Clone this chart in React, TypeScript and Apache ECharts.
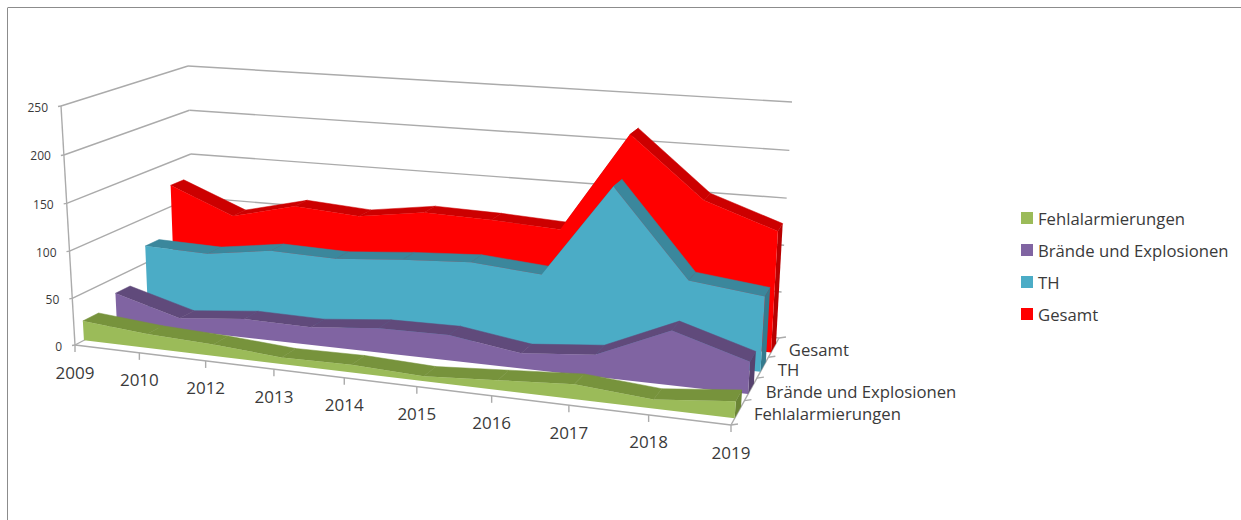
import React, { useEffect, useRef } from "react";
import * as echarts from "echarts";

const categories = ["2009", "2010", "2012", "2013", "2014", "2015", "2016", "2017", "2018", "2019"];
const seriesNames = ["Fehlalarmierungen", "Brände und Explosionen", "TH", "Gesamt"];
const fehlalarmierungen = [21, 15, 12, 7, 8, 5, 10, 15, 9, 17];
const braende = [33, 13, 20, 19, 26, 27, 16, 23, 56, 33];
const th = [69, 67, 77, 75, 81, 85, 79, 177, 87, 78];
const gesamt = [124, 95, 112, 107, 117, 115, 111, 217, 154, 128];
const valueTicks = [0, 50, 100, 150, 200, 250];

const seriesValues = [fehlalarmierungen, braende, th, gesamt];
const FRONT_COLORS = ["#9BBB59", "#8064A2", "#4BACC6", "#FF0000"];
const TOP_COLORS = ["#77933C", "#604A7B", "#3B879C", "#CC0000"];
const END_COLORS = ["#6B8535", "#56426E", "#357A8D", "#B80000"];

// layout of the 3D box (screen corners), not data
type P = [number, number];
const FLOOR = { O: [75, 345] as P, X: [731, 425] as P, Z: [195, 282] as P, C: [779, 338] as P };
const ROOF = { O: [61, 106] as P, X: [747, 164] as P, Z: [188, 66] as P, C: [792, 102] as P };
const DEPTH_FRONT = [0.066, 0.32, 0.575, 0.81];
const DEPTH_BAND = 0.118;
const U_PERSPECTIVE = 0.87;
const U_PERSPECTIVE_DEPTH = 0.05;
const U_PLANE = 0.813;
const V_PERSPECTIVE = 0.97;
const GRID = "#ABABAB";
const FONT = "'Open Sans', sans-serif";
const TEXT = "#3A3A3A";

function plane(q: { O: P; X: P; Z: P; C: P }) {
  const { O, X, Z, C } = q;
  const a = C[0] - X[0], b = C[0] - Z[0], c = C[0] - O[0];
  const d = C[1] - X[1], e = C[1] - Z[1], f = C[1] - O[1];
  const det = a * e - b * d;
  const wx = (c * e - b * f) / det;
  const wz = (a * f - c * d) / det;
  return (u: number, t: number): P => {
    const w = 1 + u * (wx - 1) + t * (wz - 1);
    return [
      (O[0] + u * (wx * X[0] - O[0]) + t * (wz * Z[0] - O[0])) / w,
      (O[1] + u * (wx * X[1] - O[1]) + t * (wz * Z[1] - O[1])) / w,
    ];
  };
}
const floorAt = plane(FLOOR);
const roofAt = plane(ROOF);
function project(u0: number, v0: number, t: number): P {
  const p = U_PERSPECTIVE + U_PERSPECTIVE_DEPTH * t;
  const s = (u0 * p) / (1 + u0 * (p - 1));
  const u = s / (U_PLANE - s * (U_PLANE - 1));
  const v = (v0 * V_PERSPECTIVE) / (1 + v0 * (V_PERSPECTIVE - 1));
  const a = floorAt(u, t), b = roofAt(u, t);
  return [a[0] + (b[0] - a[0]) * v, a[1] + (b[1] - a[1]) * v];
}

// library scales -> unit box coordinates -> screen
function locate(params: any, api: any, cat: number, value: number, t: number): P {
  const cs = params.coordSys;
  const c = api.coord([cat, value]);
  return project((c[0] - cs.x) / cs.width, 1 - (c[1] - cs.y) / cs.height, t);
}
const seg = (a: P, b: P, w = 1.4, color = GRID) => ({
  type: "line",
  shape: { x1: a[0], y1: a[1], x2: b[0], y2: b[1] },
  style: { stroke: color, lineWidth: w },
  silent: true,
});
const label = (text: string, x: number, y: number, size: number, align: string) => ({
  type: "text",
  style: { text, x, y, fontSize: size, fontFamily: FONT, fill: TEXT, align, verticalAlign: "middle" },
  silent: true,
});

function areaSeries(k: number) {
  const values = seriesValues[k];
  const tf = DEPTH_FRONT[k], tb = tf + DEPTH_BAND;
  return {
    type: "custom",
    name: seriesNames[k],
    coordinateSystem: "cartesian2d",
    itemStyle: { color: FRONT_COLORS[k] },
    encode: { x: 0, y: 1 },
    data: values.map((v, i) => [i, v]),
    silent: true,
    renderItem: (params: any, api: any) => {
      if (params.dataIndex !== 0) return null;
      const n = values.length;
      const children: any[] = [];
      for (let i = 0; i < n - 1; i++) {
        children.push({
          type: "polygon",
          shape: {
            points: [
              locate(params, api, i, values[i], tf),
              locate(params, api, i + 1, values[i + 1], tf),
              locate(params, api, i + 1, values[i + 1], tb),
              locate(params, api, i, values[i], tb),
            ],
          },
          style: { fill: TOP_COLORS[k], stroke: TOP_COLORS[k], lineWidth: 0.5 },
        });
      }
      children.push({
        type: "polygon",
        shape: {
          points: [
            locate(params, api, n - 1, 0, tf),
            locate(params, api, n - 1, values[n - 1], tf),
            locate(params, api, n - 1, values[n - 1], tb),
            locate(params, api, n - 1, 0, tb),
          ],
        },
        style: { fill: END_COLORS[k] },
      });
      const face: P[] = values.map((v, i) => locate(params, api, i, v, tf));
      face.push(locate(params, api, n - 1, 0, tf), locate(params, api, 0, 0, tf));
      children.push({ type: "polygon", shape: { points: face }, style: { fill: FRONT_COLORS[k] } });
      return { type: "group", children };
    },
  };
}

const wallSeries = {
  type: "custom",
  name: "walls",
  coordinateSystem: "cartesian2d",
  silent: true,
  data: valueTicks.map((v) => [0, v]),
  renderItem: (params: any, api: any) => {
    const v = valueTicks[params.dataIndex];
    const a = locate(params, api, 0, v, 0);
    const b = locate(params, api, 0, v, 1);
    const c = locate(params, api, categories.length - 1, v, 1);
    const children: any[] = [
      seg(a, b),
      seg(b, c),
      seg([a[0] - 3, a[1] + 0.5], a),
      label(String(v), a[0] - 13, a[1] + 1, 12, "right"),
    ];
    if (params.dataIndex === 0) {
      const top = locate(params, api, 0, 250, 0);
      children.push(seg(a, top));
    }
    return { type: "group", children };
  },
};

const floorSeries = {
  type: "custom",
  name: "floor",
  coordinateSystem: "cartesian2d",
  silent: true,
  data: categories.map((_, i) => [i, 0]),
  renderItem: (params: any, api: any) => {
    const i = params.dataIndex;
    const p = locate(params, api, i, 0, 0);
    const children: any[] = [
      seg(p, [p[0], p[1] + 7]),
      label(categories[i], p[0], p[1] + 27, 17, "center"),
    ];
    if (i === categories.length - 1) {
      const first = locate(params, api, 0, 0, 0);
      children.push(seg(first, p));
      const end = locate(params, api, i, 0, 1);
      children.push(seg(p, end));
      for (let k = 0; k <= 4; k++) {
        const q = locate(params, api, i, 0, k / 4);
        children.push(seg(q, [q[0] + 7, q[1] - 1]));
      }
      const offsets = [0.125, 0.375, 0.625, 0.875];
      offsets.forEach((t, k) => {
        const q = locate(params, api, i, 0, t);
        children.push(label(seriesNames[k], q[0] + (k === 0 ? 16 : 15), q[1] + (k === 0 ? 1 : 2), 16.7, "left"));
      });
    }
    return { type: "group", children };
  },
};

export default function App() {
  const ref = useRef<HTMLDivElement>(null);
  useEffect(() => {
    const chart = echarts.init(ref.current!, undefined, { renderer: "svg" });
    chart.setOption({
      animation: false,
      backgroundColor: "#fff",
      grid: { left: 0, right: 0, top: 0, bottom: 0 },
      xAxis: { type: "category", data: categories, boundaryGap: false, show: false },
      yAxis: { type: "value", min: 0, max: 250, interval: 50, show: false },
      legend: {
        orient: "vertical",
        left: 1021,
        top: 207,
        padding: 0,
        itemWidth: 12,
        itemHeight: 12,
        itemGap: 10,
        icon: "rect",
        data: seriesNames,
        selectedMode: false,
        textStyle: { fontFamily: FONT, fontSize: 16.7, color: TEXT, lineHeight: 22, padding: [0, 0, 0, 0] },
      },
      graphic: [
        { type: "line", shape: { x1: 7.5, y1: 8, x2: 7.5, y2: 520 }, style: { stroke: "#8C8C8C", lineWidth: 1 } },
        { type: "line", shape: { x1: 7.5, y1: 7.5, x2: 1241, y2: 7.5 }, style: { stroke: "#8C8C8C", lineWidth: 1 } },
      ],
      series: [wallSeries, floorSeries, areaSeries(3), areaSeries(2), areaSeries(1), areaSeries(0)],
    });
    return () => chart.dispose();
  }, []);
  return <div ref={ref} style={{ position: "absolute", left: 0, top: 0, width: 1241, height: 520 }} />;
}
